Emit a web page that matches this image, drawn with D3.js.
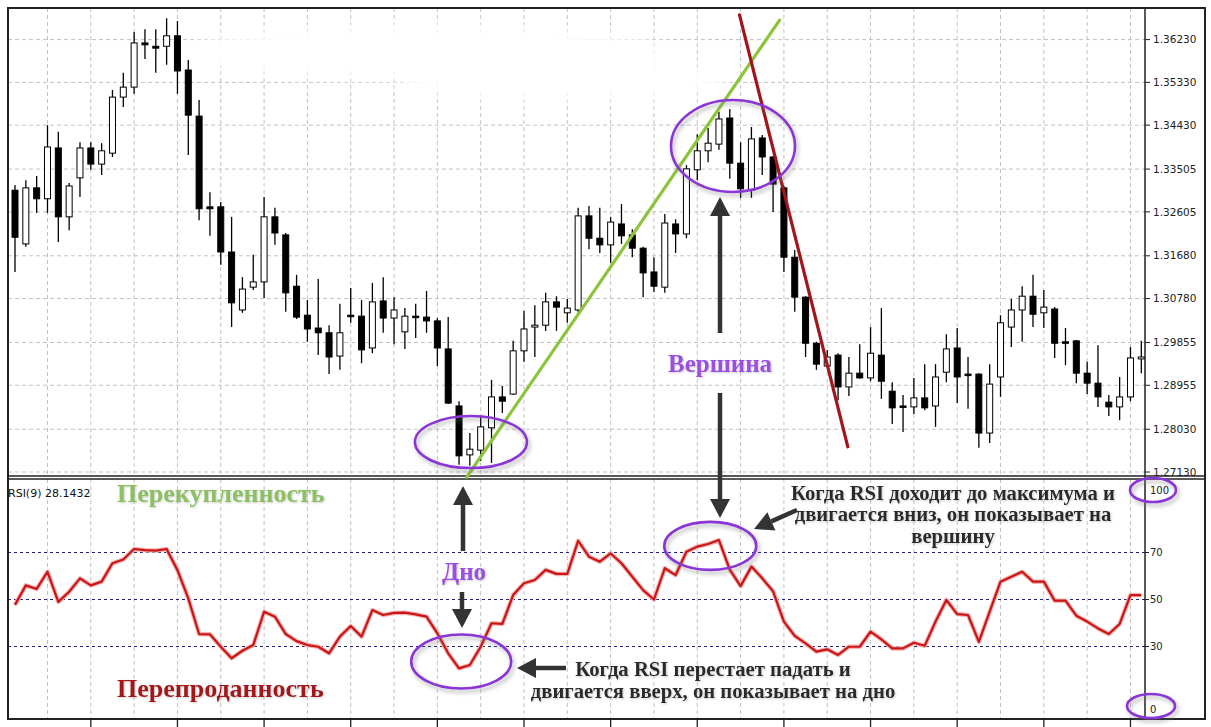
<!DOCTYPE html>
<html>
<head>
    <meta charset="utf-8" />
    <script src="https://d3js.org/d3.v7.min.js"></script>
    <title>RSI</title>
    <style>
        body { margin: 0; background: #fff; }
        svg { display: block; }
    </style>
</head>
<body>
    <svg id="chart"></svg>
    <script type="text/javascript">
        // one value per bar
        var opens = [1.3306,1.3193,1.3311,1.3288,1.3395,1.3250,1.3332,1.3395,1.3361,1.3384,
            1.3502,1.3523,1.3616,1.3609,1.3609,1.3631,1.3559,1.3462,1.3271,1.3271,
            1.3176,1.3054,1.3102,1.3113,1.3250,1.3212,1.3104,1.3043,1.3016,1.3006,
            1.2957,1.3043,1.3041,1.2974,1.3073,1.3037,1.3008,1.3041,1.3039,1.3031,
            1.2972,1.2852,1.2749,1.2759,1.2806,1.2871,1.2877,1.2968,1.3018,1.3022,
            1.3071,1.3048,1.3054,1.3252,1.3205,1.3191,1.3235,1.3212,1.3184,1.3134,
            1.3102,1.3235,1.3214,1.3349,1.3389,1.3403,1.3458,1.3363,1.3306,1.3416,
            1.3376,1.3311,1.3165,1.3081,1.2984,1.2936,1.2959,1.2892,1.2921,1.2911,
            1.2959,1.2883,1.2852,1.2850,1.2869,1.2852,1.2923,1.2974,1.2919,1.2919,
            1.2795,1.2913,1.3018,1.3054,1.3083,1.3048,1.3056,1.2987,1.2989,1.2921,
            1.2900,1.2860,1.2850,1.2871,1.2951];
        var highs = [1.3317,1.3327,1.3336,1.3443,1.3429,1.3321,1.3407,1.3407,1.3405,1.3517,
            1.3553,1.3639,1.3645,1.3645,1.3668,1.3662,1.3580,1.3496,1.3302,1.3281,
            1.3250,1.3123,1.3170,1.3292,1.3269,1.3216,1.3128,1.3075,1.3119,1.3022,
            1.3067,1.3100,1.3075,1.3111,1.3123,1.3081,1.3058,1.3067,1.3094,1.3037,
            1.3039,1.2862,1.2795,1.2831,1.2907,1.2894,1.2989,1.3052,1.3064,1.3090,
            1.3083,1.3077,1.3269,1.3273,1.3269,1.3250,1.3277,1.3224,1.3187,1.3165,
            1.3256,1.3245,1.3359,1.3424,1.3437,1.3471,1.3477,1.3407,1.3439,1.3422,
            1.3378,1.3315,1.3180,1.3083,1.2987,1.2970,1.2963,1.2955,1.2982,1.3018,
            1.3058,1.2902,1.2875,1.2911,1.2940,1.2940,1.3003,1.3016,1.2955,1.2921,
            1.2940,1.3043,1.3077,1.3104,1.3128,1.3096,1.3060,1.3016,1.2991,1.2945,
            1.2980,1.2875,1.2913,1.2976,1.2989];
        var lows = [1.3134,1.3187,1.3258,1.3258,1.3197,1.3222,1.3292,1.3349,1.3338,1.3376,
            1.3481,1.3509,1.3582,1.3553,1.3570,1.3509,1.3380,1.3243,1.3210,1.3149,
            1.3018,1.3048,1.3096,1.3079,1.3191,1.3050,1.3035,1.2987,1.2959,1.2919,
            1.2928,1.3027,1.2942,1.2963,1.3006,1.2982,1.2972,1.2995,1.3006,1.2936,
            1.2856,1.2728,1.2726,1.2736,1.2732,1.2837,1.2875,1.2945,1.2955,1.3010,
            1.3010,1.3027,1.3048,1.3182,1.3174,1.3153,1.3193,1.3165,1.3081,1.3092,
            1.3090,1.3174,1.3205,1.3327,1.3365,1.3391,1.3330,1.3290,1.3290,1.3338,
            1.3260,1.3134,1.3050,1.2955,1.2928,1.2934,1.2864,1.2873,1.2909,1.2904,
            1.2867,1.2814,1.2797,1.2835,1.2843,1.2808,1.2902,1.2858,1.2846,1.2764,
            1.2774,1.2871,1.2976,1.2987,1.3018,1.3016,1.2953,1.2938,1.2900,1.2877,
            1.2850,1.2831,1.2822,1.2862,1.2921];
        var closes = [1.3207,1.3311,1.3288,1.3397,1.3250,1.3315,1.3395,1.3361,1.3389,1.3502,
            1.3523,1.3616,1.3612,1.3605,1.3631,1.3557,1.3464,1.3267,1.3267,1.3176,
            1.3069,1.3098,1.3113,1.3250,1.3216,1.3090,1.3039,1.3014,1.3006,1.2955,
            1.3006,1.3041,1.2970,1.3071,1.3037,1.3054,1.3041,1.3039,1.3031,1.2974,
            1.2858,1.2747,1.2761,1.2808,1.2871,1.2862,1.2968,1.3014,1.3022,1.3071,
            1.3060,1.3058,1.3252,1.3205,1.3191,1.3239,1.3210,1.3184,1.3132,1.3104,
            1.3237,1.3214,1.3351,1.3389,1.3405,1.3456,1.3363,1.3309,1.3414,1.3376,
            1.3319,1.3165,1.3081,1.2984,1.2940,1.2955,1.2892,1.2921,1.2911,1.2963,
            1.2904,1.2848,1.2850,1.2869,1.2848,1.2913,1.2972,1.2913,1.2917,1.2795,
            1.2898,1.3027,1.3054,1.3083,1.3045,1.3060,1.2984,1.2984,1.2921,1.2900,
            1.2871,1.2850,1.2871,1.2953,1.2955];
        var rsi = [47.7,56,54.5,61.8,49,53.3,59,56,57.6,65.4,
            67,71.5,71,70.8,71.5,62.5,50.5,35.3,35.2,29.9,
            25,28.2,30.6,44.8,42.7,35.3,32.3,30.6,29.9,27.1,
            34.2,38.7,34.2,45.5,43.4,44.3,44.4,43.7,42.7,35.6,
            27.1,20.7,22.1,29.9,39.9,39.6,51.9,56.9,58.3,62.6,
            60.9,60.9,75,68.2,66.1,69.6,65.4,59.7,54,50,
            63.3,60.4,70.3,72.5,73.6,75.3,62.7,55.7,64,59,
            53.5,40.6,34.5,31.3,27.8,28.8,26.4,29.9,29.9,36.3,
            33,29.2,29.2,31.6,30.3,40.6,49.8,43.8,43.4,32,
            44.8,57.6,59.7,61.8,57.6,57.6,49.5,49.5,43.1,40.6,
            37.7,35.3,39.6,51.9,51.9];

        var priceTicks = [1.36230, 1.35330, 1.34430, 1.33505, 1.32605, 1.31680, 1.30780, 1.29855, 1.28955, 1.28030, 1.27130];
        var rsiLevels = [70, 50, 30];
        var rsiLabels = [100, 70, 50, 30, 0];
        var rsiTitle = 'RSI(9) 28.1432';

        // trend lines drawn by hand on the chart: [bar, price] -> [bar, price]
        var trendLines = [
            { from: [41.7, 1.2702], to: [70.6, 1.3664], color: '#8cc43c' },
            { from: [66.9, 1.3675], to: [76.9, 1.2766], color: '#a0161a' }
        ];

        const W = 1211, H = 727;
        const L = 8, R = 1145, RR = 1205, T = 8, PB = 476, RT = 479, B = 719;

        const svg = d3.select('#chart').attr('width', W).attr('height', H);
        svg.append('rect').attr('width', W).attr('height', H).attr('fill', '#fff');

        const x = d3.scaleLinear().domain([0, opens.length - 1]).range([15, 1141.3]);
        const yP = d3.scaleLinear().domain([1.2713, 1.3623]).range([472, 39.6]);
        const yR = d3.scaleLinear().domain([0, 100]).range([717, 482]);

        const defs = svg.append('defs');
        defs.append('clipPath').attr('id', 'clipP').append('rect')
            .attr('x', L).attr('y', T).attr('width', R - L).attr('height', PB - T);
        defs.append('clipPath').attr('id', 'clipR').append('rect')
            .attr('x', L).attr('y', RT).attr('width', R - L).attr('height', B - RT);
        defs.append('filter').attr('id', 'blur').attr('x', '-30%').attr('y', '-60%')
            .attr('width', '160%').attr('height', '220%')
            .append('feGaussianBlur').attr('stdDeviation', 7);
        defs.append('filter').attr('id', 'shadow').attr('x', '-20%').attr('y', '-30%')
            .attr('width', '150%').attr('height', '170%')
            .append('feDropShadow').attr('dx', 2).attr('dy', 3).attr('stdDeviation', 2)
            .attr('flood-color', '#777').attr('flood-opacity', 0.55);
        defs.append('filter').attr('id', 'glow').attr('x', '-5%').attr('y', '-20%')
            .attr('width', '110%').attr('height', '140%')
            .append('feDropShadow').attr('dx', 1).attr('dy', 1).attr('stdDeviation', 1)
            .attr('flood-color', '#999').attr('flood-opacity', 0.5);

        // grid
        const gridIdx = d3.range(3, opens.length, 4);
        const grid = svg.append('g').attr('stroke', '#c2c2c2').attr('stroke-dasharray', '4,3').attr('stroke-width', 1);
        grid.selectAll('.hg').data(priceTicks).enter().append('line')
            .attr('x1', L).attr('x2', R).attr('y1', d => yP(d)).attr('y2', d => yP(d));
        grid.selectAll('.vg1').data(gridIdx).enter().append('line')
            .attr('x1', d => x(d)).attr('x2', d => x(d)).attr('y1', T).attr('y2', PB);
        grid.selectAll('.vg2').data(gridIdx).enter().append('line')
            .attr('x1', d => x(d)).attr('x2', d => x(d)).attr('y1', RT).attr('y2', B);

        // the whitened patch at the top of the picture
        const blob = svg.append('g').attr('filter', 'url(#blur)').attr('fill', '#fff');
        blob.append('ellipse').attr('cx', 425).attr('cy', 52).attr('rx', 240).attr('ry', 26);
        blob.append('ellipse').attr('cx', 565).attr('cy', 80).attr('rx', 165).attr('ry', 20);

        // RSI levels
        svg.append('g').selectAll('line').data(rsiLevels).enter().append('line')
            .attr('x1', L).attr('x2', R).attr('y1', d => yR(d)).attr('y2', d => yR(d))
            .attr('stroke', '#23237a').attr('stroke-dasharray', '3,3').attr('stroke-width', 1);

        // candles
        const bars = opens.map((o, i) => ({ i: i, o: o, h: highs[i], l: lows[i], c: closes[i] }));
        const cg = svg.append('g').attr('clip-path', 'url(#clipP)');
        const candle = cg.selectAll('g').data(bars).enter().append('g');
        candle.append('line')
            .attr('x1', d => x(d.i)).attr('x2', d => x(d.i))
            .attr('y1', d => yP(d.h)).attr('y2', d => yP(d.l))
            .attr('stroke', '#000').attr('stroke-width', 1.3);
        candle.append('rect')
            .attr('x', d => x(d.i) - 3).attr('width', 6)
            .attr('y', d => yP(Math.max(d.o, d.c)))
            .attr('height', d => Math.max(1.5, Math.abs(yP(d.o) - yP(d.c))))
            .attr('fill', d => d.c > d.o ? '#fff' : '#000')
            .attr('stroke', '#000').attr('stroke-width', 1);

        // RSI line
        const rsiLine = d3.line().x((d, i) => x(i)).y(d => yR(d));
        const rg = svg.append('g').attr('clip-path', 'url(#clipR)');
        rg.append('path').datum(rsi).attr('d', rsiLine)
            .attr('fill', 'none').attr('stroke', '#f2b4b4').attr('stroke-width', 4.5).attr('stroke-linejoin', 'round');
        rg.append('path').datum(rsi).attr('d', rsiLine)
            .attr('fill', 'none').attr('stroke', '#cc1414').attr('stroke-width', 2.2).attr('stroke-linejoin', 'round');

        // frame
        const frame = svg.append('g').attr('stroke', '#222').attr('fill', 'none');
        frame.append('rect').attr('x', L).attr('y', T).attr('width', RR - L).attr('height', B - T).attr('stroke-width', 2);
        frame.append('line').attr('x1', R).attr('x2', R).attr('y1', T).attr('y2', B).attr('stroke-width', 1.5);
        frame.append('line').attr('x1', L).attr('x2', RR).attr('y1', PB).attr('y2', PB).attr('stroke-width', 1.5);
        frame.append('line').attr('x1', L).attr('x2', RR).attr('y1', RT).attr('y2', RT).attr('stroke-width', 1.5);
        frame.selectAll('.bt').data(gridIdx.filter((d, k) => k % 2 == 1)).enter().append('line')
            .attr('x1', d => x(d)).attr('x2', d => x(d)).attr('y1', B).attr('y2', H)
            .attr('stroke-width', 1.3);

        // price axis
        const fmt = d3.format('.5f');
        const pa = svg.append('g');
        pa.selectAll('line').data(priceTicks).enter().append('line')
            .attr('x1', R).attr('x2', R + 5).attr('y1', d => yP(d)).attr('y2', d => yP(d))
            .attr('stroke', '#222');
        pa.selectAll('text').data(priceTicks).enter().append('text')
            .attr('x', R + 8).attr('y', d => yP(d)).attr('dy', '0.35em')
            .attr('font-family', 'DejaVu Sans').attr('font-size', 10.5).attr('fill', '#222')
            .text(d => fmt(d));

        // RSI axis
        const ra = svg.append('g');
        ra.selectAll('line').data(rsiLevels).enter().append('line')
            .attr('x1', R).attr('x2', R + 4).attr('y1', d => yR(d)).attr('y2', d => yR(d))
            .attr('stroke', '#222');
        ra.selectAll('text').data(rsiLabels).enter().append('text')
            .attr('x', R + 5).attr('y', d => Math.min(Math.max(yR(d), 490), 709)).attr('dy', '0.35em')
            .attr('font-family', 'DejaVu Sans').attr('font-size', 10).attr('fill', '#222')
            .text(d => d);
        svg.append('text').attr('x', 8).attr('y', 497)
            .attr('font-family', 'DejaVu Sans').attr('font-size', 11).attr('fill', '#111')
            .text(rsiTitle);

        // trend lines
        svg.append('g').selectAll('line').data(trendLines).enter().append('line')
            .attr('x1', d => x(d.from[0])).attr('y1', d => yP(d.from[1]))
            .attr('x2', d => x(d.to[0])).attr('y2', d => yP(d.to[1]))
            .attr('stroke', d => d.color).attr('stroke-width', 3.2).attr('stroke-linecap', 'round');

        // ellipses (bottom / top on price, then on RSI, then on the scale)
        var rings = [
            [x(42.1), yP(1.2776), 56, 26],
            [x(66.3), yP(1.3399), 62, 46],
            [x(41.2), yR(23.6), 50, 27],
            [x(64.2), yR(72.8), 46, 24],
            [1153, 490, 23, 12],
            [1151, 706, 24, 12]
        ];
        svg.append('g').selectAll('ellipse').data(rings).enter().append('ellipse')
            .attr('cx', d => d[0]).attr('cy', d => d[1]).attr('rx', d => d[2]).attr('ry', d => d[3])
            .attr('fill', 'none').attr('stroke', '#8b35d6').attr('stroke-width', 2.6)
            .attr('filter', 'url(#shadow)');

        // arrows
        const ag = svg.append('g').attr('fill', '#333').attr('stroke', '#333');
        function arrow(x1, y1, x2, y2) {
            var a = Math.atan2(y2 - y1, x2 - x1), hl = 19, hw = 10;
            var bx = x2 - hl * Math.cos(a), by = y2 - hl * Math.sin(a);
            ag.append('line').attr('x1', x1).attr('y1', y1).attr('x2', bx).attr('y2', by).attr('stroke-width', 4.5);
            ag.append('path').attr('stroke', 'none').attr('d',
                'M' + x2 + ',' + y2 +
                'L' + (bx + hw * Math.sin(a)) + ',' + (by - hw * Math.cos(a)) +
                'L' + (bx - hw * Math.sin(a)) + ',' + (by + hw * Math.cos(a)) + 'Z');
        }
        arrow(720, 333, 720, 197);
        arrow(720, 393, 720, 518);
        arrow(463, 551, 463, 486);
        arrow(462, 592, 462, 628);
        arrow(566, 668, 517, 668);
        arrow(797, 510, 754, 529);

        // notes
        const serif = 'Liberation Serif, Times New Roman, serif';
        function note(tx, ty, str, size, color, anchor) {
            svg.append('text').attr('x', tx).attr('y', ty)
                .attr('font-family', serif).attr('font-weight', 'bold')
                .attr('font-size', size).attr('fill', color)
                .attr('text-anchor', anchor || 'middle')
                .attr('filter', 'url(#glow)')
                .text(str);
        }
        note(117, 502, 'Перекупленность', 26, '#8cc062', 'start');
        note(117, 697, 'Перепроданность', 26, '#a3161c', 'start');
        note(464, 580, 'Дно', 25, '#9b4fe2');
        note(720, 372, 'Вершина', 25, '#9b4fe2');
        note(713, 676, 'Когда RSI перестает падать и', 20.7, '#2a2a2a');
        note(713, 698, 'двигается вверх, он показывает на дно', 20.7, '#2a2a2a');
        note(953, 500, 'Когда RSI доходит до максимума и', 20.7, '#2a2a2a');
        note(953, 521, 'двигается вниз, он показывает на', 20.7, '#2a2a2a');
        note(953, 543, 'вершину', 20.7, '#2a2a2a');
    </script>
</body>
</html>
